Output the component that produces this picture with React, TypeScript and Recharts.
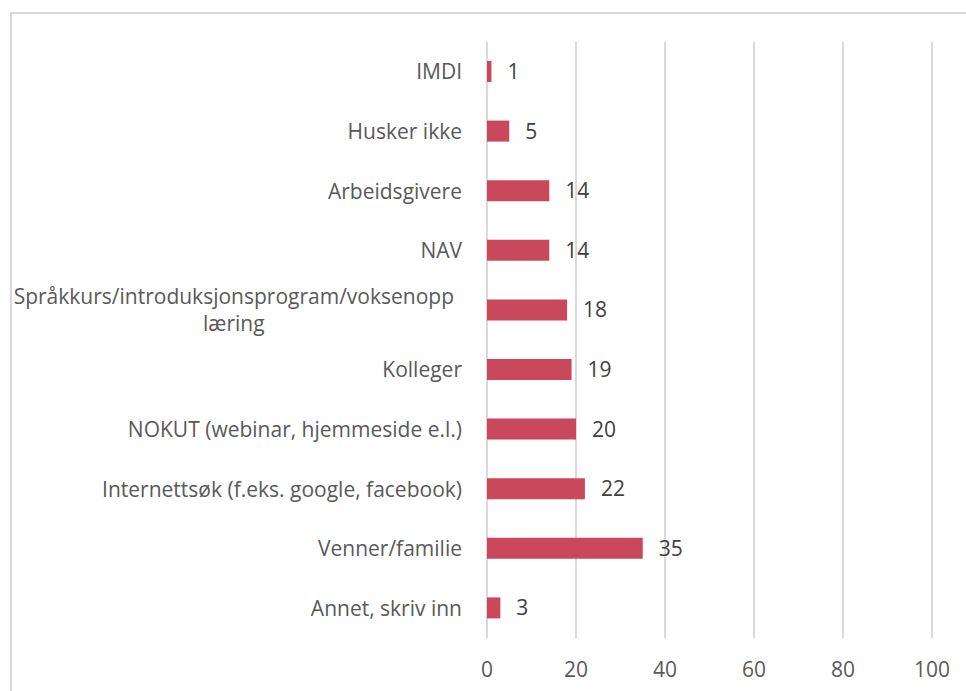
import { BarChart, Bar, XAxis, YAxis, CartesianGrid, LabelList } from 'recharts';

const categories = [
    'IMDI',
    'Husker ikke',
    'Arbeidsgivere',
    'NAV',
    'Språkkurs/introduksjonsprogram/voksenopplæring',
    'Kolleger',
    'NOKUT (webinar, hjemmeside e.l.)',
    'Internettsøk (f.eks. google, facebook)',
    'Venner/familie',
    'Annet, skriv inn',
];
const counts = [1, 5, 14, 14, 18, 19, 20, 22, 35, 3];
const xTicks = [0, 20, 40, 60, 80, 100];

const data = categories.map((name, i) => ({ name, value: counts[i] }));

const FONT = '"Open Sans", Lato, sans-serif';
const FONT_SIZE = 21;
const LABEL_COLOR = '#595959';
const MAX_LINE = 40;

function measure(text: string) {
    const canvas = document.createElement('canvas');
    const ctx = canvas.getContext('2d');
    if (!ctx) return text.length * 10;
    ctx.font = `${FONT_SIZE}px ${FONT}`;
    return ctx.measureText(text).width;
}

// Excel-style wrapped category label, lines centred on each other
function CategoryTick({ x, y, payload }: any) {
    const label: string = payload.value;
    const lines: string[] = [];
    for (let i = 0; i < label.length; i += MAX_LINE) lines.push(label.slice(i, i + MAX_LINE));
    const right = x - 23;
    if (lines.length === 1) {
        return (
            <text x={right} y={y} dy={7.5} textAnchor="end" fill={LABEL_COLOR} fontSize={FONT_SIZE} fontFamily={FONT}>
                {label}
            </text>
        );
    }
    const w = measure(lines[0]);
    const cx = right - 8 - w / 2;
    const startY = y - ((lines.length - 1) * 27) / 2;
    return (
        <text textAnchor="middle" fill={LABEL_COLOR} fontSize={FONT_SIZE} fontFamily={FONT}>
            {lines.map((line, i) => (
                <tspan key={i} x={cx} y={startY + i * 27} dy={7.5}>{line}</tspan>
            ))}
        </text>
    );
}

export default function App() {
    return (
        <div style={{ position: 'absolute', left: 0, top: 0, width: 966, height: 691, overflow: 'hidden', background: '#fff' }}>
            <div style={{ position: 'absolute', left: 10, top: 12, width: 1000, height: 720, border: '2px solid #d9d9d9', boxSizing: 'border-box' }} />
            <div style={{ position: 'absolute', left: 0, top: 0 }}>
                <BarChart
                    width={966}
                    height={691}
                    data={data}
                    layout="vertical"
                    margin={{ top: 42, right: 34, left: 0, bottom: 0 }}
                >
                    <CartesianGrid horizontal={false} stroke="#d9d9d9" strokeWidth={2} />
                    <XAxis
                        type="number"
                        domain={[0, 100]}
                        ticks={xTicks}
                        axisLine={false}
                        tickLine={false}
                        tickSize={0}
                        tickMargin={24}
                        height={53}
                        tick={{ fontSize: FONT_SIZE, fill: LABEL_COLOR, fontFamily: FONT }}
                    />
                    <YAxis
                        type="category"
                        dataKey="name"
                        width={487}
                        axisLine={false}
                        tickLine={false}
                        tickSize={0}
                        interval={0}
                        tick={<CategoryTick />}
                    />
                    <Bar dataKey="value" fill="#C9485B" barSize={21} isAnimationActive={false}>
                        <LabelList
                            dataKey="value"
                            position="right"
                            offset={16}
                            fill="#404040"
                            fontSize={FONT_SIZE}
                            fontFamily={FONT}
                        />
                    </Bar>
                </BarChart>
            </div>
        </div>
    );
}
